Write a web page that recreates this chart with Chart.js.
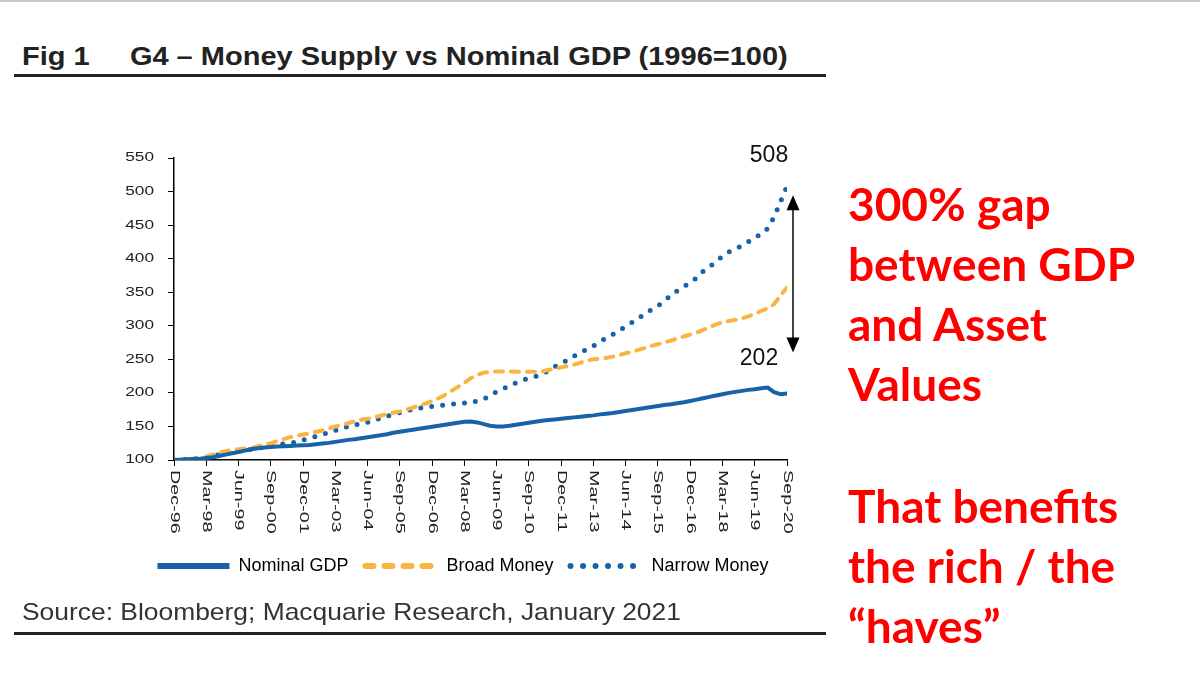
<!DOCTYPE html>
<html>
<head>
<meta charset="utf-8">
<script src="https://cdn.jsdelivr.net/npm/chart.js@4"></script>
<style>
  body { margin: 0; background: #fff; }
  #page { position: relative; width: 1200px; height: 677px; overflow: hidden; font-family: "Liberation Sans", Arial, sans-serif; }
  .topline { position: absolute; left: 0; top: 0; width: 1200px; height: 2px; background: #c8c8c8; }
  .title { position: absolute; left: 22px; top: 42px; font-size: 25px; line-height: 28px; font-weight: bold; color: #222; white-space: nowrap; transform: scaleX(1.16); transform-origin: 0 0; }
  .title span { display: inline-block; width: 93px; }
  .rule { position: absolute; left: 14px; width: 812px; height: 3px; background: #222; }
  .source { position: absolute; left: 22px; top: 598px; font-size: 24px; line-height: 28px; color: #333; white-space: nowrap; transform: scaleX(1.1); transform-origin: 0 0; }
  .note { position: absolute; left: 848px; font-family: Lato, "Open Sans", sans-serif; font-weight: bold; font-size: 46px; line-height: 60px; color: #f00; white-space: nowrap; }
  canvas { position: absolute; left: 40px; top: 130px; }
</style>
</head>
<body>
<div id="page">
  <div class="topline"></div>
  <div class="title"><span>Fig 1</span>G4 – Money Supply vs Nominal GDP (1996=100)</div>
  <div class="rule" style="top:74px"></div>
  <canvas id="chart" width="846" height="470"></canvas>
  <div class="source">Source: Bloomberg; Macquarie Research, January 2021</div>
  <div class="rule" style="top:632px"></div>
  <div class="note" style="top:174px">300% gap<br>between GDP<br>and Asset<br>Values</div>
  <div class="note" style="top:476px">That benefits<br>the rich / the<br>“haves”</div>
</div>
<script>
// quarterly, Dec-96 .. Sep-20
const tickLabels = ['Dec-96','Mar-98','Jun-99','Sep-00','Dec-01','Mar-03','Jun-04','Sep-05','Dec-06','Mar-08',
  'Jun-09','Sep-10','Dec-11','Mar-13','Jun-14','Sep-15','Dec-16','Mar-18','Jun-19','Sep-20'];

const nominalGdp = [100,100.5,101,101.5,102,103,104,106,108,110,
  112,114,116,117.5,118.5,119.5,120,120.5,121,121.5,
  122,122.5,123.5,124.5,125.5,127,128.5,130,131,132.5,
  134,135.5,137,138.5,140.5,142,143.5,145,146.5,148,
  149.5,151,152.5,154,155.5,157,157.5,156,153.5,151,
  150,150,151,152.5,154,155.5,157,158.5,159.5,160.5,
  161.5,162.5,163.5,164.5,165.5,166.5,168,169,170,171.5,
  173,174.5,176,177.5,179,180.5,182,183,184.5,186,
  188,190,192,194,196,198,200,201.5,203,204.5,
  205.5,207,208,201,198,199];

const broadMoney = [100,100.5,101,102,103,105,108,111,113,115,
  116,117,118,120.5,123,125,128,131,134,136,
  138,140,142,144,147,150,152,155,157.5,160,
  161.5,163.5,166,168.5,170.5,172.5,175,178,181,184,
  188,192,197,203,209,215,222,227,230,231.5,
  232,232,232,231.5,231.5,231.5,231.5,232,234,236,
  238,240,242,245,248,250,251,252,254,256.5,
  259,261.5,264,267,270,272.5,275,278,281,284,
  287,290,294,298,302,305,307,309,311,314,
  318,322,326,332,345,357];

const narrowMoney = [100,100.5,101,102,103,104.5,106,108,110,111.5,
  113,114.5,116,117.5,119,121,122.5,124,125,127,
  130,132,135,138,141,144,147,150,152.5,153.5,
  156,159,162,165,168,170.5,173.5,175.5,177,178.5,
  180,181,182,183,184,185,185.5,188,191,196,
  202,206,210.5,215,219,222,224.5,227.5,233,239,
  244,249,255,260,265,270,276,282,287,293,
  299,305,311,318,324,330,336,346,352,358,
  365,371,381,388,395,404,410,415,419,425,
  431,437,445,462,485,508];

const blue = '#1763a6';
const orange = '#fbb444';
const axisFont = '"Liberation Sans", Arial, sans-serif';
const legendDash = [[], [8, 11], [0, 12.5]];

const toPoints = arr => arr.map((v, i) => ({ x: i, y: v }));

const annotations = {
  id: 'annotations',
  afterDraw(chart) {
    const ctx = chart.ctx;
    const xs = chart.scales.x;
    const ys = chart.scales.y;
    const last = nominalGdp.length - 1;

    ctx.save();
    ctx.fillStyle = '#222';
    ctx.font = '12.5px ' + axisFont;

    // y labels, a bit wide like the source image
    ctx.textAlign = 'right';
    ctx.textBaseline = 'middle';
    ys.ticks.forEach(t => {
      const py = ys.getPixelForValue(t.value);
      ctx.save();
      ctx.translate(ys.right - 20, py);
      ctx.scale(1.38, 1);
      ctx.fillText(String(t.value), 0, 0);
      ctx.restore();
    });

    // rotated x labels, reading downwards
    ctx.textAlign = 'left';
    xs.ticks.forEach((t, i) => {
      const px = xs.getPixelForValue(t.value);
      ctx.save();
      ctx.translate(px, ys.bottom + 10);
      ctx.rotate(Math.PI / 2);
      ctx.scale(1.58, 1);
      ctx.fillText(tickLabels[i], 0, 0);
      ctx.restore();
    });
    ctx.restore();

    // end values
    const xEnd = xs.getPixelForValue(last);
    const yNarrow = ys.getPixelForValue(narrowMoney[last]);
    const yGdp = ys.getPixelForValue(nominalGdp[last]);
    ctx.save();
    ctx.fillStyle = '#111';
    ctx.font = '23px ' + axisFont;
    ctx.textAlign = 'center';
    ctx.textBaseline = 'middle';
    ctx.fillText(String(narrowMoney[last]), xEnd - 18, yNarrow - 31);
    ctx.fillText('202', xEnd - 28, yGdp - 35);

    // gap arrow
    const ax = xEnd + 6;
    const top = yNarrow + 9;
    const bottom = yGdp - 41;
    ctx.strokeStyle = '#444';
    ctx.lineWidth = 2;
    ctx.beginPath();
    ctx.moveTo(ax, top + 12);
    ctx.lineTo(ax, bottom - 12);
    ctx.stroke();
    ctx.fillStyle = '#000';
    ctx.beginPath();
    ctx.moveTo(ax, top);
    ctx.lineTo(ax - 6.5, top + 15);
    ctx.lineTo(ax + 6.5, top + 15);
    ctx.closePath();
    ctx.fill();
    ctx.beginPath();
    ctx.moveTo(ax, bottom);
    ctx.lineTo(ax - 6.5, bottom - 15);
    ctx.lineTo(ax + 6.5, bottom - 15);
    ctx.closePath();
    ctx.fill();
    ctx.restore();
  }
};

new Chart(document.getElementById('chart').getContext('2d'), {
  type: 'line',
  data: {
    datasets: [{
      label: 'Nominal GDP',
      data: toPoints(nominalGdp),
      borderColor: blue,
      backgroundColor: blue,
      borderWidth: 4,
      borderCapStyle: 'round',
      pointRadius: 0
    }, {
      label: 'Broad Money',
      data: toPoints(broadMoney),
      borderColor: orange,
      backgroundColor: orange,
      borderWidth: 4,
      borderDash: [8, 8],
      borderCapStyle: 'round',
      pointRadius: 0
    }, {
      label: 'Narrow Money',
      data: toPoints(narrowMoney),
      borderColor: blue,
      backgroundColor: blue,
      borderWidth: 5,
      borderDash: [0, 11],
      borderCapStyle: 'round',
      pointRadius: 0
    }]
  },
  options: {
    responsive: false,
    animation: false,
    layout: { padding: { top: 28, right: 0, bottom: 15, left: 0 } },
    plugins: {
      tooltip: { enabled: false },
      legend: {
        position: 'bottom',
        labels: {
          usePointStyle: true,
          pointStyleWidth: 72,
          padding: 17,
          color: '#222',
          font: { size: 18, family: axisFont },
          generateLabels: chart => chart.data.datasets.map((ds, i) => ({
            text: ds.label,
            strokeStyle: ds.borderColor,
            fillStyle: ds.borderColor,
            lineWidth: 6,
            lineDash: legendDash[i],
            lineCap: i === 0 ? 'butt' : 'round',
            pointStyle: 'line',
            hidden: false,
            datasetIndex: i
          }))
        }
      }
    },
    scales: {
      x: {
        type: 'linear',
        min: 0,
        max: 95,
        ticks: { stepSize: 5, display: false },
        grid: { drawOnChartArea: false, drawTicks: true, tickLength: 6, color: '#000' },
        border: { color: '#000', width: 1.5 },
        afterFit: s => { s.height = 80; }
      },
      y: {
        min: 100,
        max: 550,
        ticks: { stepSize: 50, display: false },
        grid: { drawOnChartArea: false, drawTicks: true, tickLength: 6, color: '#000' },
        border: { color: '#000', width: 1.5 },
        afterFit: s => { s.width = 134; }
      },
      // empty space right of the plot, keeps the legend centred under the figure
      y2: {
        position: 'right',
        ticks: { display: false },
        grid: { display: false },
        border: { display: false },
        afterFit: s => { s.width = 99; }
      }
    }
  },
  plugins: [annotations]
});
</script>
</body>
</html>
